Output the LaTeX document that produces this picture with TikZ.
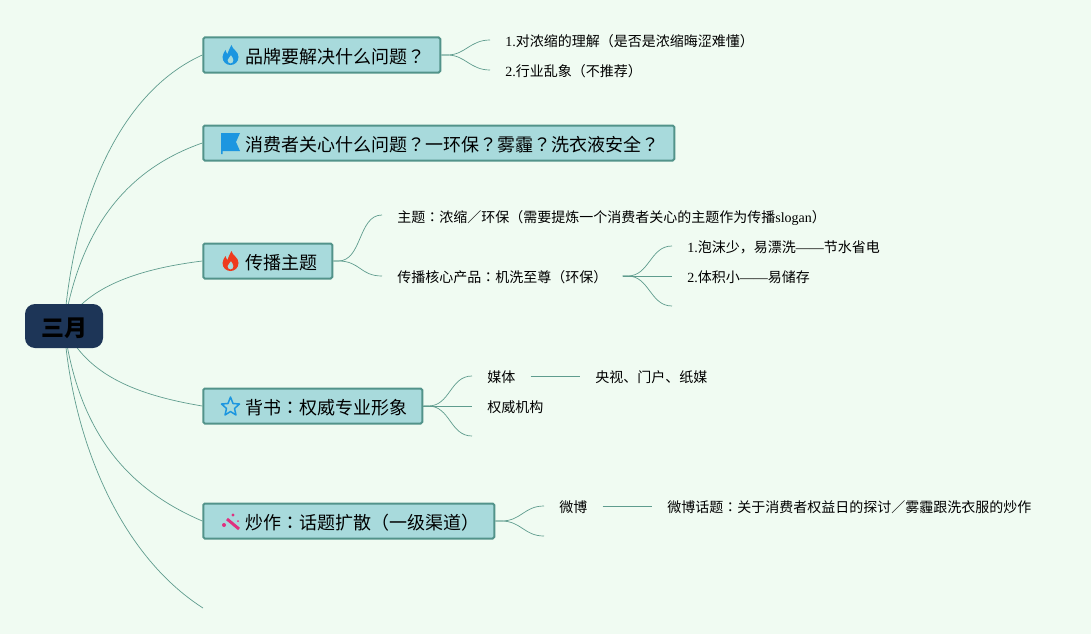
\documentclass[tikz,border=0pt]{standalone}
\usepackage{fontspec}
\setmainfont{Liberation Serif}
\newfontfamily\cjk{Noto Sans CJK SC}
\newfontfamily\cjkp{Noto Sans CJK TC}
\newcommand{\wen}{{\cjkp ？}}
\newcommand{\mao}{{\cjkp ：}}
\newcommand{\hengxian}{{\rmfamily ——}}
\definecolor{bgc}{HTML}{F0FBF2}
\definecolor{linec}{HTML}{5F9C8E}
\definecolor{framec}{HTML}{52938A}
\definecolor{topicc}{HTML}{A8DADC}
\definecolor{rootc}{HTML}{1D3557}
\definecolor{blueic}{HTML}{1C96E0}
\definecolor{redic}{HTML}{EE3A1D}
\definecolor{pinkic}{HTML}{E0307F}
\usetikzlibrary{backgrounds}
\newcommand{\flame}[3]{\fill[#3,even odd rule,shift={(#1,#2)}] (1,-10) .. controls (2,-5) and (8,-4) .. (8,2) .. controls (8,7) and (4,10) .. (0,10) .. controls (-4,10) and (-8,7) .. (-8,2) .. controls (-8,-1) and (-6,-3) .. (-5,-5) .. controls (-4.5,-3) and (-4,-2) .. (-3,-1) .. controls (-2,-4) and (-1,-7) .. (1,-10) -- cycle (0,8.5) .. controls (2,8.5) and (3,7) .. (3,5) .. controls (3,3) and (1.5,2) .. (0.5,0) .. controls (0,2) and (-3,3) .. (-3,5) .. controls (-3,7) and (-2,8.5) .. (0,8.5) -- cycle;}
\begin{document}
\begin{tikzpicture}[x=1pt,y=-1pt,line width=0.6pt,font=\cjk\fontsize{14}{16}\selectfont,
  topic/.style={draw=framec,line width=2pt,fill=topicc,rounded corners=1.5pt,anchor=west,minimum height=35pt,inner ysep=0pt,inner xsep=15pt,text height=18pt,text depth=1.4pt,text=black,font=\cjk\fontsize{18}{20}\selectfont},
  leaf/.style={anchor=west,inner xsep=15pt,inner ysep=0pt,text height=12pt,text depth=2pt,text=black},
  link/.style={draw=linec,line width=0.7pt}]
  \useasboundingbox (0,0) rectangle (1091,634);
  \begin{scope}[on background layer]
    \fill[bgc] (0,0) rectangle (1091,634);
  \end{scope}

  % 中心与主题
  \node[fill=rootc,rounded corners=10pt,minimum width=78pt,minimum height=44pt,inner sep=0pt,text height=21pt,text depth=1pt,font=\cjk\bfseries\fontsize{23}{25}\selectfont] (yue) at (64,326) {三月};
  \node[topic] (pinpai) at (202.3,55) {\hspace*{27pt}品牌要解决什么问题\wen};
  \node[topic] (xiaofei) at (202.3,143) {\hspace*{27pt}消费者关心什么问题\wen 一环保\wen 雾霾\wen 洗衣液安全\wen};
  \node[topic] (chuanbo) at (202.3,261) {\hspace*{27pt}传播主题};
  \node[topic] (beishu) at (202.3,406) {\hspace*{27pt}背书\mao 权威专业形象};
  \node[topic] (chaozuo) at (202.3,521) {\hspace*{27pt}炒作\mao 话题扩散（一级渠道）};
  \coordinate (kong) at (203,608);

  % 分支文字
  \node[leaf] (lijie) at (490,41) {{\rmfamily 1.}对浓缩的理解（是否是浓缩晦涩难懂）};
  \node[leaf] (luanxiang) at (490,71) {{\rmfamily 2.}行业乱象（不推荐）};
  \node[leaf] (zhuti) at (382,217) {主题\mao 浓缩／环保（需要提炼一个消费者关心的主题作为传播{\rmfamily slogan}）};
  \node[leaf] (hexin) at (382,277) {传播核心产品\mao 机洗至尊（环保）};
  \node[leaf] (paomo) at (672,247) {{\rmfamily 1.}泡沫少，易漂洗\hengxian 节水省电};
  \node[leaf] (tiji) at (672,277) {{\rmfamily 2.}体积小\hengxian 易储存};
  \coordinate (hexin3) at (672,306);
  \node[leaf] (meiti) at (472,377) {媒体};
  \node[leaf] (yangshi) at (580,377) {央视、门户、纸媒};
  \node[leaf] (jigou) at (472,407) {权威机构};
  \coordinate (beishu3) at (472,436);
  \node[leaf] (weibo) at (544,507) {微博};
  \node[leaf] (huati) at (652,507) {微博话题\mao 关于消费者权益日的探讨／雾霾跟洗衣服的炒作};
  \coordinate (chaozuo2) at (544,536);

  % 中心连线
  \begin{scope}[on background layer]
    \draw[link] (yue.center) .. controls (75,190) and (125,90) .. (pinpai.west);
    \draw[link] (yue.center) .. controls (80,230) and (125,170) .. (xiaofei.west);
    \draw[link] (yue.center) .. controls (85,290) and (130,270) .. (chuanbo.west);
    \draw[link] (yue.center) .. controls (85,372) and (130,394) .. (beishu.west);
    \draw[link] (yue.center) .. controls (78,430) and (125,488) .. (chaozuo.west);
    \draw[link] (yue.center) .. controls (72,440) and (120,555) .. (kong);
  \end{scope}

  % 主题分支
  \draw[link] (pinpai.east) -- +(6,0) .. controls +(18,0) and +(-20,0) .. (lijie.west |- 0,40);
  \draw[link] (pinpai.east) -- +(6,0) .. controls +(18,0) and +(-20,0) .. (luanxiang.west |- 0,70);
  \draw[link] (chuanbo.east) -- +(5,0) .. controls +(24,0) and +(-24,0) .. (zhuti.west |- 0,215);
  \draw[link] (chuanbo.east) -- +(5,0) .. controls +(22,0) and +(-22,0) .. (hexin.west |- 0,276);
  \draw[link] (hexin.east |- 0,276) -- +(5,0) .. controls +(22,0) and +(-22,0) .. (paomo.west |- 0,246);
  \draw[link] (hexin.east |- 0,276) -- (tiji.west |- 0,276);
  \draw[link] (hexin.east |- 0,276) -- +(5,0) .. controls +(22,0) and +(-22,0) .. (hexin3);
  \draw[link] (beishu.east) -- +(5,0) .. controls +(22,0) and +(-22,0) .. (meiti.west |- 0,376);
  \draw[link] (beishu.east) -- (jigou.west |- 0,406);
  \draw[link] (beishu.east) -- +(5,0) .. controls +(22,0) and +(-22,0) .. (beishu3);
  \draw[link] (meiti.east |- 0,376) -- (yangshi.west |- 0,376);
  \draw[link] (chaozuo.east) -- +(6,0) .. controls +(20,0) and +(-20,0) .. (weibo.west |- 0,506);
  \draw[link] (chaozuo.east) -- +(6,0) .. controls +(20,0) and +(-20,0) .. (chaozuo2);
  \draw[link] (weibo.east |- 0,506) -- (huati.west |- 0,506);

  % 图标
  \flame{230.5}{55}{blueic}
  \flame{230.5}{261}{redic}
  \fill[blueic] (221,133) -- (240,133) -- (236,142) -- (240,151) -- (222.5,151) -- (222.5,154) -- (221,154) -- cycle;
  \draw[blueic,line width=1.5pt,line join=round] (230.5,397) -- (233,403.5) -- (239.5,404) -- (234.5,408.5) -- (236,415) -- (230.5,411.5) -- (225,415) -- (226.5,408.5) -- (221.5,404) -- (228,403.5) -- cycle;
  \draw[pinkic,line width=3pt] (227,519) -- (239,529);
  \fill[pinkic] (224,525) circle (2pt) (233,515) circle (1.7pt) (238,521) circle (1pt);
\end{tikzpicture}
\end{document}
